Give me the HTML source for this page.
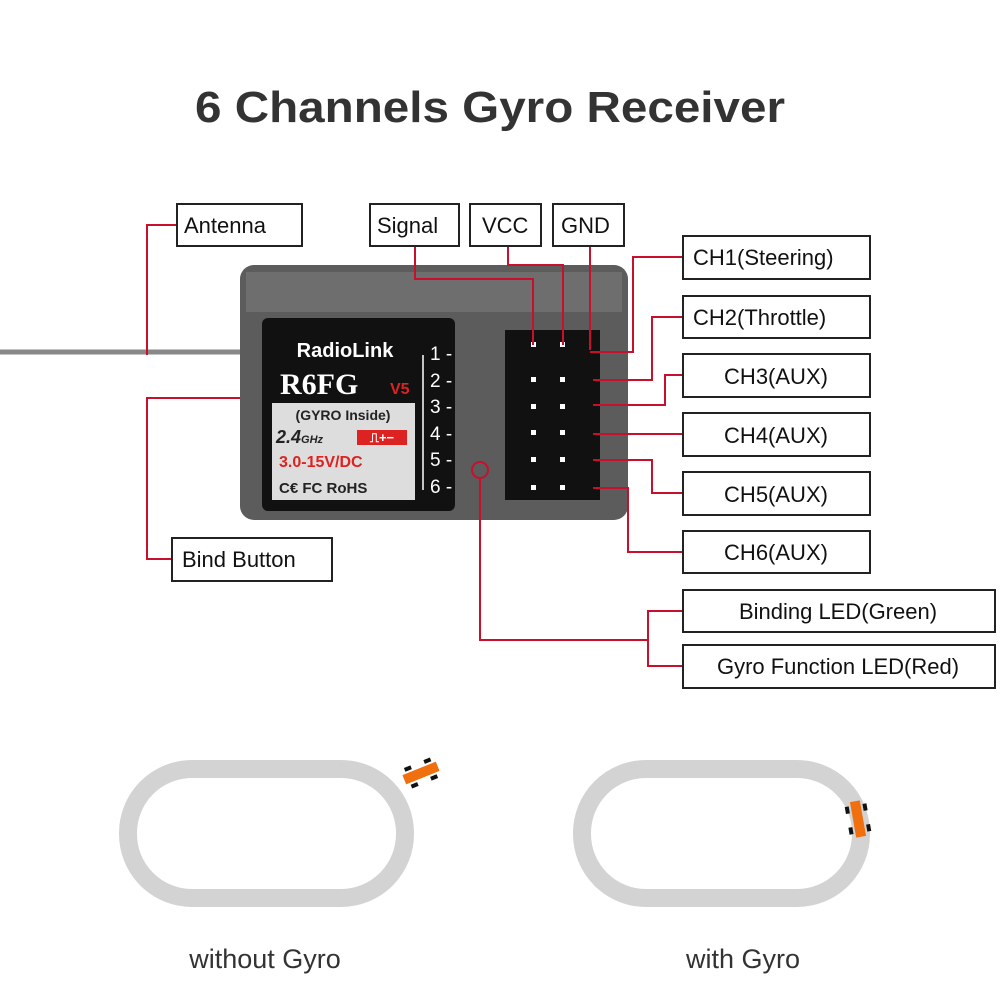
<!DOCTYPE html><html><head><style>body{margin:0;background:#fff}svg{display:block}</style></head><body>
<svg width="1001" height="1001" viewBox="0 0 1001 1001" font-family="Liberation Sans, sans-serif">
<text x="195" y="122" textLength="590" lengthAdjust="spacingAndGlyphs" font-size="44" font-weight="bold" fill="#333">6 Channels Gyro Receiver</text>
<line x1="0" y1="352" x2="245" y2="352" stroke="#888" stroke-width="5"/>
<rect x="240" y="265" width="388" height="255" rx="14" fill="#5c5c5c"/>
<rect x="246" y="272" width="376" height="40" fill="#6e6e6e"/>
<rect x="262" y="318" width="193" height="193" rx="6" fill="#111"/>
<rect x="272" y="403" width="143" height="97" fill="#ddd"/>
<text x="345" y="357" text-anchor="middle" font-size="20" font-weight="bold" fill="#fff">RadioLink</text>
<text x="280" y="394" font-size="30" font-weight="bold" font-family="Liberation Serif,serif" fill="#fff">R6FG</text>
<text x="390" y="394" font-size="16" font-weight="bold" fill="#d22">V5</text>
<text x="343" y="420" text-anchor="middle" font-size="14" font-weight="bold" fill="#222">(GYRO Inside)</text>
<text x="276" y="443" font-size="18" font-weight="bold" font-style="italic" fill="#222">2.4<tspan font-size="11">GHz</tspan></text>
<rect x="357" y="430" width="50" height="15" fill="#d22"/><text x="382" y="442" text-anchor="middle" font-size="13" font-weight="bold" fill="#fff">⎍+−</text>
<text x="279" y="467" font-size="16" font-weight="bold" fill="#d22">3.0-15V/DC</text>
<text x="279" y="493" font-size="15" font-weight="bold" fill="#222">C€ FC RoHS</text>
<line x1="423" y1="355" x2="423" y2="490" stroke="#fff" stroke-width="1.5"/>
<g font-size="19" fill="#fff"><text x="430" y="360">1 -</text><text x="430" y="387">2 -</text><text x="430" y="413">3 -</text><text x="430" y="440">4 -</text><text x="430" y="466">5 -</text><text x="430" y="493">6 -</text></g>
<rect x="505" y="330" width="95" height="170" fill="#111"/>
<g fill="#fff"><rect x="531" y="342" width="5" height="5"/><rect x="560" y="342" width="5" height="5"/><rect x="531" y="377" width="5" height="5"/><rect x="560" y="377" width="5" height="5"/><rect x="531" y="404" width="5" height="5"/><rect x="560" y="404" width="5" height="5"/><rect x="531" y="430" width="5" height="5"/><rect x="560" y="430" width="5" height="5"/><rect x="531" y="457" width="5" height="5"/><rect x="560" y="457" width="5" height="5"/><rect x="531" y="485" width="5" height="5"/><rect x="560" y="485" width="5" height="5"/></g>
<g fill="none" stroke="#c8102e" stroke-width="2">
<polyline points="177,225 147,225 147,355"/>
<polyline points="240,398 147,398 147,559 172,559"/>
<polyline points="415,246 415,279 533,279 533,345"/>
<polyline points="508,246 508,265 563,265 563,345"/>
<polyline points="590,246 590,350"/>
<polyline points="683,257 633,257 633,352 590,352"/>
<polyline points="683,317 652,317 652,380 593,380"/>
<polyline points="683,375 665,375 665,405 593,405"/>
<polyline points="683,434 593,434"/>
<polyline points="683,493 652,493 652,460 593,460"/>
<polyline points="683,552 628,552 628,488 593,488"/>
<circle cx="480" cy="470" r="8"/>
<polyline points="480,478 480,640 648,640"/>
<polyline points="683,611 648,611 648,666 683,666"/>
</g>
<g fill="#fff" stroke="#222" stroke-width="2">
<rect x="177" y="204" width="125" height="42"/><rect x="370" y="204" width="89" height="42"/><rect x="470" y="204" width="71" height="42"/><rect x="553" y="204" width="71" height="42"/>
<rect x="683" y="236" width="187" height="43"/><rect x="683" y="296" width="187" height="42"/><rect x="683" y="354" width="187" height="43"/><rect x="683" y="413" width="187" height="43"/><rect x="683" y="472" width="187" height="43"/><rect x="683" y="531" width="187" height="42"/>
<rect x="683" y="590" width="312" height="42"/><rect x="683" y="645" width="312" height="43"/><rect x="172" y="538" width="160" height="43"/>
</g>
<g font-size="22" fill="#111">
<text x="184" y="233">Antenna</text><text x="377" y="233">Signal</text><text x="482" y="233">VCC</text><text x="561" y="233">GND</text>
<text x="693" y="265">CH1(Steering)</text><text x="693" y="325">CH2(Throttle)</text>
<text x="776" y="384" text-anchor="middle">CH3(AUX)</text><text x="776" y="443" text-anchor="middle">CH4(AUX)</text><text x="776" y="502" text-anchor="middle">CH5(AUX)</text><text x="776" y="560" text-anchor="middle">CH6(AUX)</text>
<text x="838" y="619" text-anchor="middle">Binding LED(Green)</text><text x="838" y="674" text-anchor="middle">Gyro Function LED(Red)</text>
<text x="182" y="567">Bind Button</text>
</g>
<rect x="128" y="769" width="277" height="129" rx="64" fill="none" stroke="#d3d3d3" stroke-width="18"/>
<rect x="582" y="769" width="279" height="129" rx="64" fill="none" stroke="#d3d3d3" stroke-width="18"/>
<g transform="translate(421,773) rotate(-22)"><rect x="-18" y="-5" width="36" height="10" fill="#f07010"/><g fill="#111"><rect x="-14" y="-11" width="7" height="4"/><rect x="7" y="-11" width="7" height="4"/><rect x="-14" y="7" width="7" height="4"/><rect x="7" y="7" width="7" height="4"/></g></g>
<g transform="translate(858,819) rotate(-10)"><rect x="-5" y="-18" width="10" height="36" fill="#f07010"/><g fill="#111"><rect x="-11" y="-14" width="4" height="7"/><rect x="7" y="-14" width="4" height="7"/><rect x="-11" y="7" width="4" height="7"/><rect x="7" y="7" width="4" height="7"/></g></g>
<text x="265" y="968" text-anchor="middle" font-size="27" fill="#333">without Gyro</text>
<text x="743" y="968" text-anchor="middle" font-size="27" fill="#333">with Gyro</text>
</svg>
</body></html>
